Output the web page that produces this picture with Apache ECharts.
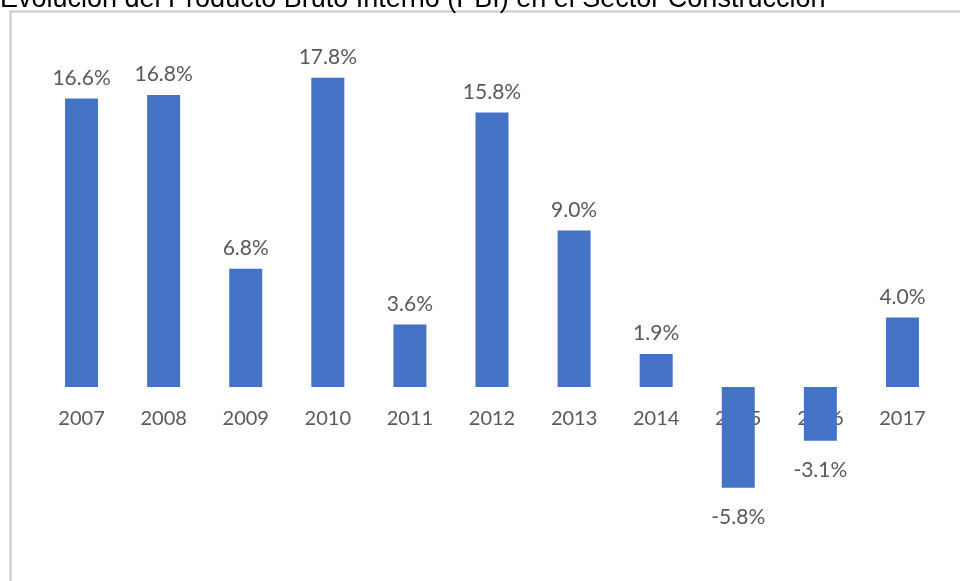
<!DOCTYPE html>
<html>
<head>
<meta charset="utf-8">
<script src="https://cdn.jsdelivr.net/npm/echarts@6/dist/echarts.min.js"></script>
<style>
  html, body { margin: 0; padding: 0; background: #ffffff; }
  #chart { width: 960px; height: 581px; }
</style>
</head>
<body>
<div id="chart"></div>
<script>
// Crecimiento anual del PBI del sector construcción (%)
const years = ['2007', '2008', '2009', '2010', '2011', '2012', '2013', '2014', '2015', '2016', '2017'];
const growth = [16.6, 16.8, 6.8, 17.8, 3.6, 15.8, 9.0, 1.9, -5.8, -3.1, 4.0];
const titleText = 'Evolución del Producto Bruto Interno (PBI) en el Sector Construcción';

const labelFont = 'Lato, "Open Sans", sans-serif';
const textGray = '#595959';
const barBlue = '#4472C4';

const yMin = -8;
const yMax = 18;
const gridTop = 74.2;
const gridHeight = 451.8;
// lift the category axis from the grid bottom up to the zero level
const zeroOffset = -((0 - yMin) / (yMax - yMin)) * gridHeight;

// Positive values get their label above the bar, negative ones below it
const barData = growth.map(v => ({
  value: v,
  label: { position: v < 0 ? 'bottom' : 'top', distance: v < 0 ? 19 : 10 }
}));

const chart = echarts.init(document.getElementById('chart'), null, { renderer: 'canvas' });

chart.setOption({
  animation: false,
  backgroundColor: '#ffffff',
  grid: { left: 40.5, right: 16.5, top: gridTop, height: gridHeight, containLabel: false },
  xAxis: {
    type: 'category',
    data: years,
    offset: zeroOffset,
    axisLine: { show: false, onZero: false },
    axisTick: { show: false },
    axisLabel: {
      color: textGray,
      fontFamily: labelFont,
      fontSize: 20,
      margin: 22
    },
    z: 0
  },
  yAxis: {
    type: 'value',
    min: yMin,
    max: yMax,
    axisLine: { show: false },
    axisTick: { show: false },
    axisLabel: { show: false },
    splitLine: { show: false }
  },
  series: [{
    type: 'bar',
    data: barData,
    barWidth: 33,
    itemStyle: { color: barBlue },
    label: {
      show: true,
      color: textGray,
      fontFamily: labelFont,
      fontSize: 21,
      formatter: p => p.value.toFixed(1) + '%'
    },
    z: 2
  }],
  graphic: [
    {
      type: 'rect',
      shape: { x: 10.5, y: 11.5, width: 980, height: 600 },
      style: { fill: 'none', stroke: '#c9c9c9', lineWidth: 2 },
      silent: true
    },
    {
      type: 'text',
      x: 0,
      y: 13,
      style: {
        text: titleText,
        font: '27px "Liberation Sans", Arial, sans-serif',
        fill: '#000000',
        verticalAlign: 'bottom',
        align: 'left'
      },
      silent: true
    }
  ]
});
</script>
</body>
</html>
